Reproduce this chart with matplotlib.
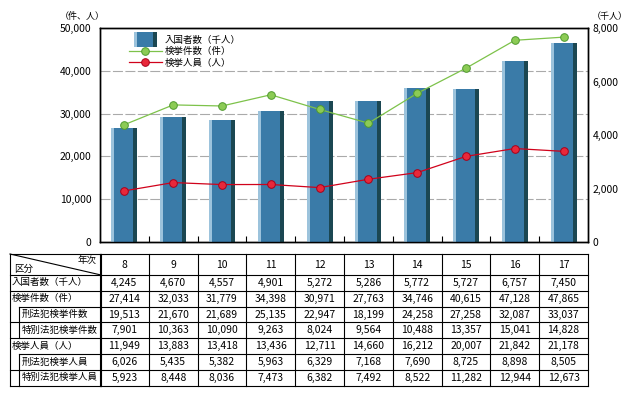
import matplotlib
matplotlib.use("Agg")
import matplotlib.pyplot as plt
from matplotlib.patches import Rectangle
from matplotlib.lines import Line2D
from matplotlib.legend_handler import HandlerBase
from matplotlib.transforms import blended_transform_factory
from matplotlib.ticker import FuncFormatter

plt.rcParams['font.family'] = ['Noto Sans CJK JP', 'DejaVu Sans']

# ---------------- data ----------------
years = ['8', '9', '10', '11', '12', '13', '14', '15', '16', '17']
arrivals = [4245, 4670, 4557, 4901, 5272, 5286, 5772, 5727, 6757, 7450]
cases = [27414, 32033, 31779, 34398, 30971, 27763, 34746, 40615, 47128, 47865]
penal_cases = [19513, 21670, 21689, 25135, 22947, 18199, 24258, 27258, 32087, 33037]
special_cases = [7901, 10363, 10090, 9263, 8024, 9564, 10488, 13357, 15041, 14828]
persons = [11949, 13883, 13418, 13436, 12711, 14660, 16212, 20007, 21842, 21178]
penal_persons = [6026, 5435, 5382, 5963, 6329, 7168, 7690, 8725, 8898, 8505]
special_persons = [5923, 8448, 8036, 7473, 6382, 7492, 8522, 11282, 12944, 12673]

left_ticks = [0, 10000, 20000, 30000, 40000, 50000]
right_ticks = [0, 2000, 4000, 6000, 8000]

label_arrivals = '入国者数（千人）'
label_cases = '検挙件数（件）'
label_persons = '検挙人員（人）'
row_labels = ['入国者数（千人）', '検挙件数（件）', '刑法犯検挙件数', '特別法犯検挙件数',
              '検挙人員（人）', '刑法犯検挙人員', '特別法犯検挙人員']
row_indent = [False, False, True, True, False, True, True]
row_values = [arrivals, cases, penal_cases, special_cases, persons, penal_persons, special_persons]

# ---------------- styles ----------------
C_LIGHT = '#9CC3DC'
C_MAIN = '#3A7BA8'
C_DARK = '#1B4752'
C_GREEN = '#7DC24A'
C_GREEN_M = '#8CCB55'
C_GREEN_E = '#4F9A2E'
C_RED = '#D0021B'
C_RED_M = '#E8283A'
C_RED_E = '#A8001A'
FS = 7.5      # digits
FS_J = 6.8    # Japanese table labels
FS_L = 6.8    # legend
FS_U = 6.5    # unit labels

W, H = 635, 396
fig = plt.figure(figsize=(W / 100, H / 100), dpi=100)

def fx(p):
    return p / W

def fy(p):
    return 1 - p / H

L, R, T, B = 100, 588, 28, 242
ax = fig.add_axes([fx(L), fy(B), fx(R - L), (B - T) / H])
ax2 = ax.twinx()
ax.set_zorder(ax2.get_zorder() + 1)
ax.patch.set_visible(False)

x = list(range(len(years)))

# bars on right axis (three-tone pseudo 3D)
bw_light, bw_main, bw_dark = 0.062, 0.39, 0.082
x0 = -0.267
ax2.bar([i + x0 for i in x], arrivals, width=bw_light, align='edge', color=C_LIGHT, linewidth=0, zorder=3)
ax2.bar([i + x0 + bw_light for i in x], arrivals, width=bw_main, align='edge', color=C_MAIN, linewidth=0, zorder=3)
ax2.bar([i + x0 + bw_light + bw_main for i in x], arrivals, width=bw_dark, align='edge', color=C_DARK, linewidth=0, zorder=3)
ax2.set_ylim(0, 8000)
ax2.set_yticks(right_ticks)
ax2.yaxis.set_major_formatter(FuncFormatter(lambda v, p: f'{int(v):,}'))
scale = 8000 / 50000
ax2.set_yticks([v * scale for v in left_ticks[1:-1]], minor=True)
ax2.grid(which='minor', axis='y', color='#AAAAAA', linestyle=(0, (9, 2.2)), linewidth=0.8, zorder=0)
ax2.set_axisbelow(True)
ax2.tick_params(axis='y', which='both', length=0, pad=3.5, labelsize=FS)

# lines on left axis
ax.plot(x, cases, color=C_GREEN, linewidth=0.9, marker='o', markersize=5.5,
        markerfacecolor=C_GREEN_M, markeredgecolor=C_GREEN_E, markeredgewidth=0.7,
        label=label_cases, zorder=5)
ax.plot(x, persons, color=C_RED, linewidth=0.9, marker='o', markersize=5.5,
        markerfacecolor=C_RED_M, markeredgecolor=C_RED_E, markeredgewidth=0.7,
        label=label_persons, zorder=5)
ax.set_ylim(0, 50000)
ax.set_yticks(left_ticks)
ax.yaxis.set_major_formatter(FuncFormatter(lambda v, p: f'{int(v):,}'))
ax.tick_params(axis='y', length=0, pad=6, labelsize=FS)
ax.set_xlim(-0.5, len(years) - 0.5)
ax.set_xticks([i + 0.5 for i in x[:-1]])
ax.set_xticklabels([])
ax.tick_params(axis='x', direction='in', length=4, width=0.8)
ax2.tick_params(axis='x', length=0)
for a in (ax, ax2):
    for s in a.spines.values():
        s.set_linewidth(1.0)
        s.set_color('black')

fig.text(fx(60), fy(16), '（件、人）', fontsize=FS_U, va='center', ha='left')
fig.text(fx(592), fy(16), '（千人）', fontsize=FS_U, va='center', ha='left')

# legend with custom bar handle
class BarHandler(HandlerBase):
    def create_artists(self, legend, orig_handle, xdescent, ydescent, width, height, fontsize, trans):
        x_start = -xdescent + width * 0.16
        tot = width * 0.71
        hh = 10.8
        y0 = -ydescent + height / 2 - hh / 2
        parts = [(0.13, C_LIGHT), (0.67, C_MAIN), (0.20, C_DARK)]
        arts = []
        cur = x_start
        for frac, col in parts:
            r = Rectangle((cur, y0), tot * frac, hh, facecolor=col, edgecolor='none', transform=trans)
            arts.append(r)
            cur += tot * frac
        return arts

bar_handle = Rectangle((0, 0), 1, 1, color=C_MAIN)
h_lines, l_lines = ax.get_legend_handles_labels()
leg = ax.legend([bar_handle] + h_lines, [label_arrivals] + l_lines,
                handler_map={Rectangle: BarHandler()},
                loc='upper left', bbox_to_anchor=(fx(129), fy(36)), bbox_transform=fig.transFigure,
                frameon=False, fontsize=FS_L, handlelength=3.45, handletextpad=0.33,
                labelspacing=0.22, borderpad=0.0, borderaxespad=0, numpoints=1)

# ---------------- table ----------------
tb = blended_transform_factory(ax.transData, fig.transFigure)
ft = fig.transFigure
lw = 0.8
row_y = [254, 275, 290.7, 306.6, 322.4, 338.3, 354.1, 370.0, 385.8]
TL = 10
IND = 19
FC = 101  # first column right edge (px)

def hline(x1, x2, y):
    fig.add_artist(Line2D([fx(x1), fx(x2)], [fy(y), fy(y)], color='black', linewidth=lw, transform=ft))

def vline(xp, y1, y2):
    fig.add_artist(Line2D([fx(xp), fx(xp)], [fy(y1), fy(y2)], color='black', linewidth=lw, transform=ft))

for k, yy in enumerate(row_y):
    hline(IND if k in (3, 6) else TL, FC, yy)
    fig.add_artist(Line2D([-0.5, len(years) - 0.5], [fy(yy), fy(yy)], color='black', linewidth=lw, transform=tb))

vline(TL, row_y[0], row_y[-1])
vline(FC, row_y[0], row_y[-1])
for i in range(len(years) + 1):
    fig.add_artist(Line2D([i - 0.5, i - 0.5], [fy(row_y[0]), fy(row_y[-1])], color='black', linewidth=lw, transform=tb))
vline(IND, row_y[3], row_y[5])
vline(IND, row_y[6], row_y[8])

# header diagonal
fig.add_artist(Line2D([fx(TL), fx(FC)], [fy(row_y[0]), fy(row_y[1])], color='black', linewidth=lw, transform=ft))
fig.text(fx(FC - 4), fy(row_y[0] + 6), '年次', fontsize=FS_J, ha='right', va='center')
fig.text(fx(TL + 4), fy(row_y[1] - 6), '区分', fontsize=FS_J, ha='left', va='center')

yc_head = (row_y[0] + row_y[1]) / 2
for i, yr in enumerate(years):
    fig.text(i, fy(yc_head), yr, fontsize=FS, ha='center', va='center', transform=tb)

for r, (lab, ind, vals) in enumerate(zip(row_labels, row_indent, row_values)):
    yc = (row_y[r + 1] + row_y[r + 2]) / 2
    fig.text(fx(22 if ind else 12), fy(yc), lab, fontsize=FS_J, ha='left', va='center')
    for i, v in enumerate(vals):
        fig.text(i, fy(yc), f'{v:,}', fontsize=FS, ha='center', va='center', transform=tb)

fig.savefig('out.png', dpi=100)
